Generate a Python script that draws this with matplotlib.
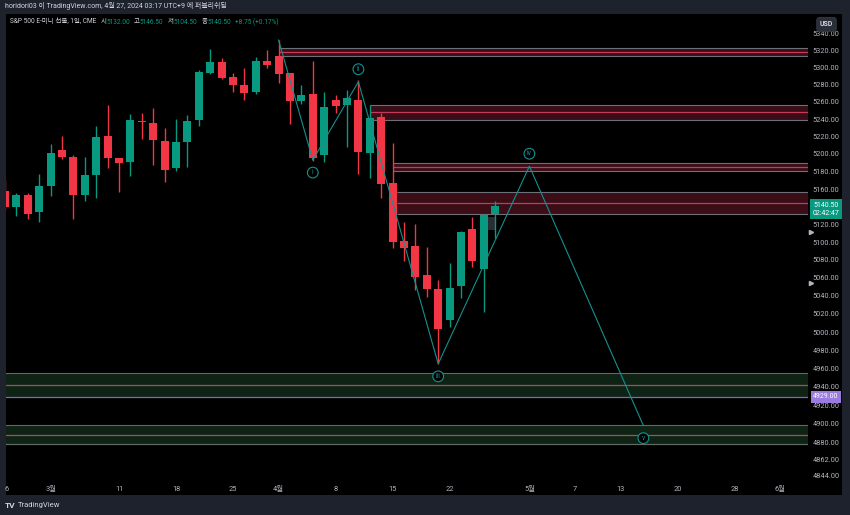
import matplotlib
matplotlib.use("Agg")
import matplotlib.pyplot as plt
import matplotlib.ticker as mticker
from matplotlib.patches import Rectangle
from matplotlib.transforms import blended_transform_factory

plt.rcParams['font.family'] = ['Roboto', 'Noto Sans CJK KR', 'DejaVu Sans']

# ---------------- data ----------------
# daily bars, Feb 26 2024 .. Apr 26 2024 (bar index 0..43)
opens  = [5157.2, 5139.5, 5153.5, 5134.2, 5163.7, 5204.5, 5196.1, 5153.1, 5176.2, 5220.6,
          5195.3, 5190.7, 5237.9, 5235.9, 5214.8, 5184.2, 5214.0, 5238.7, 5293.2, 5306.0,
          5289.2, 5279.5, 5271.4, 5307.2, 5313.0, 5293.5, 5261.3, 5269.4, 5198.8, 5262.5,
          5256.3, 5262.5, 5200.7, 5242.5, 5166.5, 5101.4, 5096.1, 5063.1, 5047.6, 5013.8,
          5050.5, 5114.5, 5069.8, 5132.0]
highs  = [5170.0, 5155.1, 5155.0, 5177.1, 5211.7, 5220.6, 5198.4, 5196.8, 5232.4, 5256.3,
          5195.6, 5245.9, 5247.1, 5252.5, 5230.1, 5239.8, 5244.4, 5297.0, 5321.6, 5310.7,
          5293.9, 5299.7, 5312.5, 5320.4, 5332.1, 5294.0, 5279.5, 5307.2, 5271.4, 5267.6,
          5273.7, 5285.4, 5256.3, 5246.7, 5212.2, 5122.3, 5120.1, 5094.7, 5057.9, 5076.8,
          5112.0, 5127.9, 5131.5, 5146.5]
lows   = [5136.0, 5129.4, 5126.0, 5123.0, 5152.0, 5194.5, 5126.0, 5146.3, 5149.4, 5184.2,
          5156.2, 5175.1, 5217.1, 5187.6, 5167.6, 5180.7, 5185.3, 5232.4, 5292.5, 5286.5,
          5271.4, 5262.1, 5269.1, 5299.7, 5281.5, 5234.0, 5258.0, 5192.0, 5191.1, 5247.1,
          5207.6, 5176.7, 5172.8, 5149.4, 5093.6, 5079.1, 5046.8, 5039.1, 4965.1, 5006.1,
          5038.0, 5072.7, 5022.6, 5104.5]
closes = [5139.5, 5153.1, 5131.6, 5163.4, 5201.0, 5196.1, 5153.1, 5175.9, 5219.4, 5195.0,
          5189.9, 5238.7, 5236.2, 5216.3, 5181.9, 5213.7, 5238.2, 5295.0, 5306.3, 5288.0,
          5279.2, 5270.6, 5307.2, 5302.5, 5292.0, 5261.0, 5267.6, 5195.7, 5254.4, 5255.5,
          5264.1, 5202.5, 5241.7, 5165.7, 5099.9, 5093.9, 5060.9, 5047.6, 5003.2, 5049.0,
          5111.5, 5079.4, 5130.9, 5140.5]

# Elliott wave projection
wave_x = [24, 27, 31, 38, 46, 56]
wave_y = [5332.1, 5193.0, 5283.4, 4965.1, 5186.0, 4898.0]
wave_labels = ['', 'i', 'ii', 'iii', 'iv', 'v']
wave_label_dir = [0, -1, 1, -1, 1, -1]

# supply (red) zones: start index, top, mid, bottom
red_start = [24, 32, 34, 34.35]
red_top   = [5322.4, 5256.3, 5189.2, 5156.2]
red_mid   = [5318.4, 5248.6, 5185.3, 5143.7]
red_bot   = [5313.7, 5238.7, 5180.7, 5131.3]

# demand (green) zones
green_top = [4954.7, 4898.3]
green_mid = [4941.7, 4887.5]
green_bot = [4929.0, 4877.9]

# axis ticks
y_ticks = [5340, 5320, 5300, 5280, 5260, 5240, 5220, 5200, 5180, 5160, 5120, 5100,
           5080, 5060, 5040, 5020, 5000, 4980, 4960, 4940, 4920, 4900, 4880, 4862, 4844]
x_tick_pos = [0.15, 4, 10, 15, 20, 24, 29, 34, 39, 46, 50, 54, 59, 64, 68]
x_tick_lab = ['6', '3월', '11', '18', '25', '4월', '8', '15', '22', '5월', '7', '13', '20', '28', '6월']

legend_keys = ['시', '고', '저', '종']
legend_vals = ['5132.00', '5146.50', '5104.50', '5140.50']
change_text = '+8.75 (+0.17%)'

last_price = 5140.50
countdown = '02:42:47'
alert_price = 4929.00
marker_prices = [5111.0, 5053.9]

# ---------------- style ----------------
UP = '#089981'
DN = '#f23645'
BG = '#1e222d'
TXT = '#d1d4dc'
TICK = '#b2b5be'
WAVE = '#14918f'

W, H = 850, 515
fig = plt.figure(figsize=(W / 100, H / 100), dpi=100, facecolor=BG)

def fx(px):
    return px / W

def fy(py):
    return 1 - py / H

panel = Rectangle((fx(6), fy(495)), fx(842 - 6), (495 - 14) / H,
                  transform=fig.transFigure, facecolor='black', edgecolor='none', zorder=-10)
fig.add_artist(panel)

ax = fig.add_axes([fx(6), fy(480), fx(808 - 6), (480 - 14) / H])
ax.set_facecolor('black')
ax.set_yscale('log')
ax.set_ylim(4839.7, 5362.8)
ax.set_xlim(0.0877, 70.44)
for s in ax.spines.values():
    s.set_visible(False)

# zones
XR = 80
for x0, t, m, b in zip(red_start, red_top, red_mid, red_bot):
    ax.add_patch(Rectangle((x0, b), XR - x0, t - b, facecolor='#3a0d17', edgecolor='none', zorder=1))
    ax.hlines([t, b], x0, XR, color='#6e6f78', lw=0.8, zorder=2)
    ax.hlines(m, x0, XR, color='#c53a57', lw=0.9, zorder=2)
for i, (t, m, b) in enumerate(zip(green_top, green_mid, green_bot)):
    ax.add_patch(Rectangle((-5, b), XR + 5, t - b, facecolor='#0f2314', edgecolor='none', zorder=1))
    ax.hlines(t, -5, XR, color='#5e6a62', lw=0.8, zorder=2)
    ax.hlines(m, -5, XR, color='#a0525c', lw=0.9, zorder=2)
    ax.hlines(b, -5, XR, color='#7a6bb5' if i == 0 else '#5e6a62', lw=0.9, zorder=2)

# small grey range box near last bar
ax.add_patch(Rectangle((42.34, 5113.7), 0.64, 14.9, facecolor='#2a2d33', edgecolor='none', zorder=2))

# candles
for i, (o, h, l, c) in enumerate(zip(opens, highs, lows, closes)):
    col = UP if c >= o else DN
    ax.vlines(i, l, h, color=col, lw=1.0, zorder=3)
    lo, hi = min(o, c), max(o, c)
    ax.bar(i, max(hi - lo, 1.2), bottom=lo, width=0.7, color=col, zorder=4, linewidth=0)

# wave
ax.plot(wave_x, wave_y, color=WAVE, lw=0.8, zorder=5)
for x, y, lab, d in zip(wave_x, wave_y, wave_labels, wave_label_dir):
    if not lab:
        continue
    ax.annotate(lab, xy=(x, y), xytext=(0, 12.5 * d), textcoords='offset pixels',
                ha='center', va='center', fontsize=4.8, color=WAVE, zorder=6,
                bbox=dict(boxstyle='circle,pad=0.28', fc='black', ec=WAVE, lw=0.8))

# axes ticks
ax.yaxis.tick_right()
ax.set_yticks(y_ticks, labels=[f'{v:.2f}' for v in y_ticks])
ax.yaxis.set_minor_locator(mticker.NullLocator())
ax.yaxis.set_minor_formatter(mticker.NullFormatter())
ax.tick_params(axis='y', length=0, pad=3.2, labelsize=5.3, labelcolor=TICK)
ax.set_xticks(x_tick_pos, labels=x_tick_lab)
ax.tick_params(axis='x', length=0, pad=4.5, labelsize=5.3, labelcolor=TICK)

blend = blended_transform_factory(ax.transAxes, ax.transData)
ax.annotate(f'{last_price:.2f}\n{countdown}', xy=(1, last_price), xycoords=blend,
            xytext=(18, -3), textcoords='offset pixels', ha='center', va='center',
            fontsize=5.0, color='white', linespacing=1.15, annotation_clip=False, zorder=10,
            bbox=dict(boxstyle='square,pad=0.35', fc=UP, ec='none'))
ax.annotate(f'{alert_price:.2f}', xy=(1, alert_price), xycoords=blend,
            xytext=(18, 0), textcoords='offset pixels', ha='center', va='center',
            fontsize=5.0, color='white', annotation_clip=False, zorder=10,
            bbox=dict(boxstyle='square,pad=0.3', fc='#9a7be0', ec='none'))
for mp in marker_prices:
    ax.plot([1.004], [mp], transform=blend, marker='>', ms=3, color=TICK, clip_on=False, zorder=10)

# header texts
FS = 5.0
fig.text(fx(5), fy(6), 'horidori03 이 TradingView.com, 4월 27, 2024 03:17 UTC+9 에 퍼블리쉬됨',
         fontsize=FS, color=TXT, va='center', ha='left')
LFS = 4.7
prev = fig.text(fx(10), fy(22), 'S&P 500 E-미니 선물, 1일, CME', fontsize=LFS, color=TXT,
                va='center', ha='left')

def chain(prev_artist, s, color, gap):
    return ax.annotate(s, xy=(1, 0.5), xycoords=prev_artist, xytext=(gap, 0),
                       textcoords='offset pixels', ha='left', va='center',
                       fontsize=LFS, color=color, annotation_clip=False)

for k, v in zip(legend_keys, legend_vals):
    prev = chain(prev, k, TXT, 4)
    prev = chain(prev, v, UP, 0)
chain(prev, change_text, UP, 4)

# USD box
fig.text(fx(826.5), fy(24.5), 'USD', fontsize=5.0, color=TXT, ha='center', va='center', weight='bold',
         bbox=dict(boxstyle='round,pad=0.45,rounding_size=0.4', fc='#2a2e39', ec='#363a45', lw=0.6))

# TradingView footer
fig.text(fx(5), fy(505), 'TV', fontsize=6, color=TXT, weight='bold', ha='left', va='center')
fig.text(fx(18), fy(505), 'TradingView', fontsize=5.5, color=TXT, ha='left', va='center')

fig.savefig('out.png', dpi=100, facecolor=BG)
